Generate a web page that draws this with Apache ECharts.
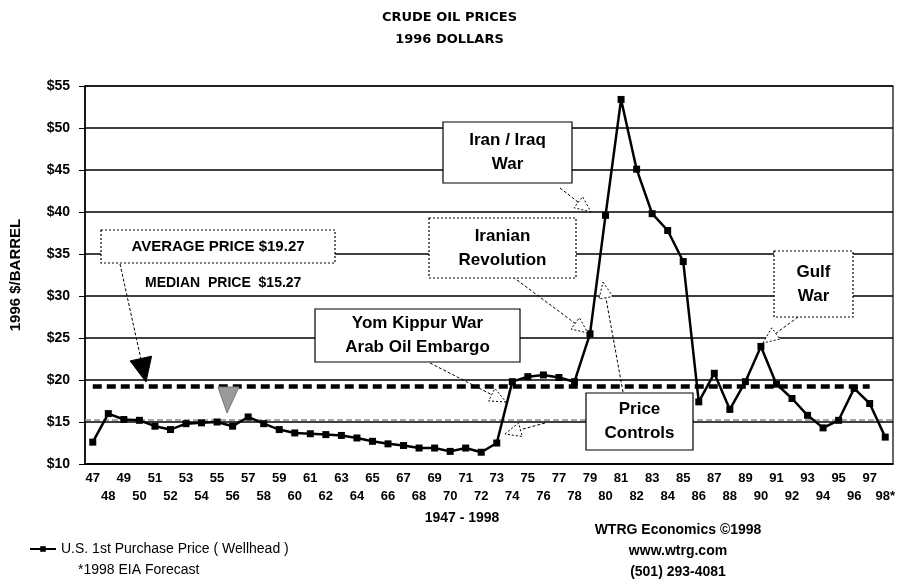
<!DOCTYPE html>
<html>
<head>
<meta charset="utf-8">
<script src="https://cdn.jsdelivr.net/npm/echarts@6/dist/echarts.min.js"></script>
<style>
  html, body { margin: 0; padding: 0; background: #fff; }
  #chart { width: 899px; height: 586px; }
</style>
</head>
<body>
<div id="chart"></div>
<script>
// years 1947 - 1998 (two digit labels, 98 is a forecast)
var years = ['47','48','49','50','51','52','53','54','55','56','57','58','59','60','61','62','63','64','65','66',
             '67','68','69','70','71','72','73','74','75','76','77','78','79','80','81','82','83','84','85','86',
             '87','88','89','90','91','92','93','94','95','96','97','98*'];
// U.S. 1st purchase price (wellhead), 1996 dollars per barrel
var wellhead = [12.6, 16.0, 15.3, 15.2, 14.5, 14.1, 14.8, 14.9, 15.0, 14.5,
                15.6, 14.8, 14.1, 13.7, 13.6, 13.5, 13.4, 13.1, 12.7, 12.4,
                12.2, 11.9, 11.9, 11.5, 11.9, 11.4, 12.5, 19.8, 20.4, 20.6,
                20.3, 19.8, 25.5, 39.6, 53.4, 45.1, 39.8, 37.8, 34.1, 17.4,
                20.8, 16.5, 19.8, 24.0, 19.5, 17.8, 15.8, 14.3, 15.2, 19.0,
                17.2, 13.2];
var averagePrice = 19.27;
var medianPrice = 15.27;

var myChart = echarts.init(document.getElementById('chart'));
var FONT = '"Liberation Sans", Arial, sans-serif';

function box(x, y, w, h, lines, dashed, fontSize) {
    var items = [{
        type: 'rect',
        shape: { x: x, y: y, width: w, height: h },
        style: { fill: '#fff', stroke: '#000', lineWidth: 1.2, lineDash: dashed ? [2, 2] : null },
        z: 100
    }];
    var lh = fontSize + 7;
    var y0 = y + h / 2 - (lines.length - 1) * lh / 2;
    lines.forEach(function (t, i) {
        items.push({
            type: 'text',
            style: { text: t, x: x + w / 2, y: y0 + i * lh, align: 'center', verticalAlign: 'middle',
                     fontSize: fontSize, fontWeight: 'bold', fontFamily: FONT, fill: '#000' },
            z: 101
        });
    });
    return items;
}

function arrow(x1, y1, x2, y2, filled, color) {
    var ang = Math.atan2(y2 - y1, x2 - x1);
    var len = filled ? 24 : 16, wid = filled ? 11 : 7;
    var bx = x2 - len * Math.cos(ang), by = y2 - len * Math.sin(ang);
    var px = -Math.sin(ang) * wid, py = Math.cos(ang) * wid;
    return [{
        type: 'line',
        shape: { x1: x1, y1: y1, x2: bx, y2: by },
        style: { stroke: color || '#000', lineWidth: 1, lineDash: [3, 2] },
        z: 99
    }, {
        type: 'polygon',
        shape: { points: [[x2, y2], [bx + px, by + py], [bx - px, by - py]] },
        style: { fill: filled ? (color || '#000') : '#fff', stroke: color || '#000', lineWidth: 1,
                 lineDash: filled ? null : [2, 2] },
        z: 99
    }];
}

var graphics = [].concat(
    box(443, 122, 129, 61, ['Iran / Iraq', 'War'], false, 17),
    box(429, 218, 147, 60, ['Iranian', 'Revolution'], true, 17),
    box(315, 309, 205, 53, ['Yom Kippur War', 'Arab Oil Embargo'], false, 17),
    box(586, 393, 107, 57, ['Price', 'Controls'], false, 17),
    box(774, 251, 79, 66, ['Gulf', 'War'], true, 17),
    box(101, 230, 234, 33, ['AVERAGE PRICE $19.27'], true, 15),
    arrow(560, 188, 591, 212),
    arrow(513, 277, 588, 333),
    arrow(623, 392, 603, 282),
    arrow(430, 363, 506, 402),
    arrow(545, 423, 505, 434),
    arrow(798, 317, 763, 343),
    arrow(120, 264, 146, 382, true, '#000'),
    [{
        type: 'polygon',
        shape: { points: [[227, 413], [218, 387], [239, 387]] },
        style: { fill: '#9a9a9a', stroke: '#777', lineWidth: 1 },
        z: 99
    }, {
        type: 'text',
        style: { text: 'MEDIAN  PRICE  $15.27', x: 145, y: 283, verticalAlign: 'middle',
                 fontSize: 14, fontWeight: 'bold', fontFamily: FONT, fill: '#000' },
        z: 101
    }, {
        type: 'text',
        style: { text: '1947 - 1998', x: 462, y: 518, align: 'center', verticalAlign: 'middle',
                 fontSize: 14, fontWeight: 'bold', fontFamily: FONT, fill: '#000' }
    }, {
        type: 'text',
        style: { text: '*1998 EIA Forecast', x: 78, y: 570, verticalAlign: 'middle',
                 fontSize: 14, fontFamily: FONT, fill: '#000' }
    }, {
        type: 'text',
        style: { text: 'WTRG Economics \u00a91998\nwww.wtrg.com\n(501) 293-4081', x: 678, y: 551,
                 align: 'center', verticalAlign: 'middle', lineHeight: 21,
                 fontSize: 14, fontWeight: 'bold', fontFamily: FONT, fill: '#000' }
    }]
);

var option = {
    backgroundColor: '#fff',
    animation: false,
    title: {
        text: 'CRUDE OIL PRICES\n1996 DOLLARS',
        left: 'center',
        top: 2,
        textStyle: { fontSize: 13, fontWeight: 'bold', fontFamily: '"DejaVu Sans", sans-serif',
                     color: '#000', lineHeight: 22 }
    },
    legend: {
        data: ['U.S. 1st Purchase Price ( Wellhead )'],
        left: 24,
        top: 537,
        itemWidth: 26,
        itemHeight: 7,
        itemGap: 4,
        textStyle: { fontSize: 14, fontFamily: FONT, color: '#000' }
    },
    grid: {
        left: 84, right: 6, top: 86, bottom: 122,
        show: true, borderColor: '#000', borderWidth: 1.2
    },
    xAxis: {
        type: 'category',
        data: years,
        boundaryGap: true,
        axisLine: { lineStyle: { color: '#000', width: 1.5 } },
        axisTick: { show: false },
        axisLabel: {
            interval: 0,
            color: '#000',
            fontSize: 13,
            fontWeight: 'bold',
            fontFamily: FONT,
            lineHeight: 18,
            margin: 5,
            formatter: function (v, i) { return i % 2 === 0 ? v : '\n' + v; }
        }
    },
    yAxis: {
        type: 'value',
        min: 10, max: 55, interval: 5,
        name: '1996 $/BARREL',
        nameLocation: 'middle',
        nameGap: 62,
        nameTextStyle: { fontSize: 15, fontWeight: 'bold', fontFamily: FONT, color: '#000' },
        axisLine: { show: true, lineStyle: { color: '#000', width: 1.5 } },
        axisTick: { show: true, length: 6, lineStyle: { color: '#000' } },
        axisLabel: {
            color: '#000', fontSize: 14, fontWeight: 'bold', fontFamily: FONT, margin: 15,
            formatter: function (v) { return '$' + v; }
        },
        splitLine: { lineStyle: { color: '#000', width: 1.5 } }
    },
    series: [{
        name: 'U.S. 1st Purchase Price ( Wellhead )',
        type: 'line',
        data: wellhead,
        symbol: 'rect',
        symbolSize: 7,
        itemStyle: { color: '#000' },
        lineStyle: { color: '#000', width: 2.5 },
        z: 5,
        markLine: {
            silent: true,
            symbol: 'none',
            label: { show: false },
            data: [
                [{ coord: ['47', averagePrice], lineStyle: { color: '#000', width: 4.5, type: [9, 5] } },
                 { coord: ['97', averagePrice] }],
                { yAxis: medianPrice, lineStyle: { color: '#8a8a8a', width: 1.5, type: [6, 3] } }
            ]
        }
    }],
    graphic: graphics
};

myChart.setOption(option);
</script>
</body>
</html>
